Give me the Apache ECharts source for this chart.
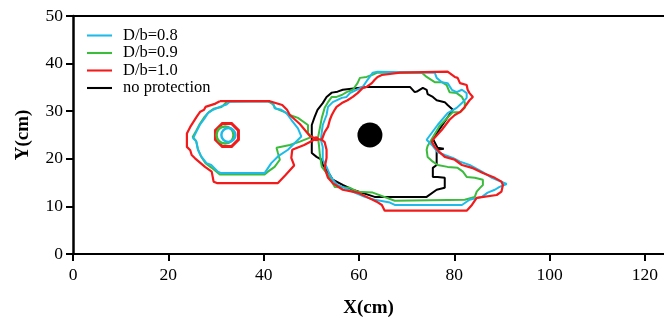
<!DOCTYPE html>
<html>
<head>
<meta charset="utf-8">
<script src="https://cdn.jsdelivr.net/npm/echarts@6/dist/echarts.min.js"></script>
<style>html,body{margin:0;padding:0;background:#fff}#c{width:664px;height:322px}</style>
</head>
<body>
<div id="c"></div>
<script>
var xTicks = [0, 20, 40, 60, 80, 100, 120];
var yTicks = [0, 10, 20, 30, 40, 50];
var seriesNames = ['D/b=0.8', 'D/b=0.9', 'D/b=1.0', 'no protection'];
var seriesColors = ['#1EBBEA', '#3DBB3D', '#F21A1A', '#000000'];

var pier = [[62.3, 25.0]];
var junction = [[51.0, 24.2]];
var ringRed = [[32.3, 25.0]];
var ringGreen = [[31.9, 25.0]];
var ringCyan = [[32.6, 25.0]];

var db08Left = [[32.9,32.0],[40.9,32.1],[42.0,31.7],[42.3,30.6],[43.7,30.3],[44.8,29.6],[45.8,28.2],[47.2,26.4],[47.9,24.7],[45.1,21.9],[43.0,20.5],[41.6,19.1],[40.2,17.0],[31.1,17.0],[30.4,17.3],[29.0,18.7],[28.0,19.1],[26.9,20.5],[26.2,21.9],[25.9,23.6],[25.2,24.3],[25.9,25.7],[26.6,27.1],[27.6,28.5],[28.3,29.6],[29.4,30.3],[30.8,30.9],[32.2,31.4],[32.9,32.0]];
var db08Right = [[52.0,24.0],[52.2,25.6],[52.4,27.1],[53.2,29.2],[53.5,30.9],[54.5,31.9],[56.4,32.8],[57.4,33.0],[58.1,33.8],[59.5,34.5],[60.8,35.1],[61.8,36.6],[62.9,38.1],[63.9,38.3],[75.9,38.1],[76.3,37.0],[77.4,36.1],[78.6,35.9],[79.5,34.5],[80.5,34.0],[81.6,34.5],[82.6,33.8],[82.6,32.8],[81.6,31.7],[80.5,30.7],[78.6,29.6],[76.5,27.1],[74.2,24.0],[75.3,22.9],[76.5,21.4],[78.0,20.8],[79.7,20.2],[81.2,19.4],[83.2,18.7],[85.8,17.3],[87.9,16.0],[91.0,14.7],[89.5,14.1],[88.5,13.5],[87.0,12.9],[85.8,12.0],[83.2,11.4],[81.6,10.3],[67.5,10.3],[66.5,10.8],[63.3,11.4],[61.2,12.0],[59.1,12.9],[57.0,13.9],[55.5,14.5],[54.5,15.6],[53.9,16.6],[53.2,18.3],[52.4,19.8],[52.4,22.5],[52.0,24.0]];

var db09Left = [[32.4,32.1],[40.9,32.1],[41.9,31.5],[42.5,30.6],[44.0,30.0],[45.5,29.2],[47.2,28.6],[49.3,27.1],[49.3,25.4],[50.1,24.6],[49.7,24.3],[47.6,23.6],[45.5,22.9],[42.7,22.3],[43.0,21.2],[43.4,19.8],[42.3,18.3],[40.9,17.3],[40.2,16.7],[30.8,16.7],[29.1,18.1],[27.8,19.1],[26.8,20.6],[26.2,22.1],[25.8,23.8],[25.1,24.6],[25.8,25.8],[26.6,27.3],[27.6,28.8],[28.5,29.8],[29.5,30.5],[31.2,30.9],[32.4,32.1]];
var db09Right = [[51.4,24.4],[51.8,26.5],[52.2,28.6],[52.8,30.7],[53.5,31.9],[54.3,33.0],[55.3,33.0],[56.4,33.4],[57.4,34.0],[58.7,34.5],[59.7,35.9],[60.2,37.0],[61.6,37.2],[62.7,37.6],[63.9,38.1],[73.2,38.1],[74.2,37.2],[75.9,36.1],[77.4,36.1],[78.4,35.5],[79.0,34.0],[80.5,33.8],[81.6,33.0],[82.2,31.9],[82.2,30.7],[81.2,29.8],[79.7,29.8],[76.9,26.9],[74.4,22.7],[74.2,21.9],[74.4,20.4],[75.5,19.4],[76.5,18.7],[78.6,18.3],[80.7,18.1],[81.8,17.3],[82.6,16.2],[84.3,16.0],[86.0,15.6],[86.0,14.5],[85.4,13.9],[84.7,13.1],[84.3,12.0],[82.2,11.4],[67.5,11.2],[62.9,12.9],[59.7,13.1],[58.1,13.9],[54.9,14.1],[53.5,16.6],[52.2,18.3],[51.8,20.8],[51.6,22.9],[51.4,24.4]];

var db10Left = [[30.8,32.1],[41.3,32.1],[43.9,31.3],[44.9,30.3],[45.5,29.2],[47.6,27.3],[49.7,24.8],[51.0,24.2],[48.5,22.9],[46.0,21.9],[45.8,20.2],[46.4,18.6],[44.6,16.6],[43.0,14.9],[30.2,14.9],[29.5,15.2],[29.1,17.3],[27.7,18.3],[25.6,20.1],[24.9,20.8],[24.6,21.8],[23.9,22.5],[23.9,25.3],[24.6,26.7],[25.3,27.8],[26.0,28.9],[26.7,29.9],[27.5,30.3],[27.8,30.9],[29.9,31.6],[30.8,32.1]];
var db10Right = [[51.0,24.2],[52.2,24.0],[52.8,25.6],[53.5,26.7],[53.9,28.2],[54.3,29.2],[54.9,30.3],[55.3,30.9],[56.4,31.7],[57.6,32.3],[58.7,33.0],[59.7,33.8],[60.8,34.9],[61.6,35.1],[62.7,35.9],[63.3,36.6],[63.9,37.2],[64.8,37.6],[68.6,38.1],[78.6,38.3],[80.1,37.2],[80.7,37.0],[81.2,35.9],[82.6,35.5],[82.8,34.5],[83.2,33.8],[83.9,33.0],[83.2,32.3],[82.2,30.9],[81.2,29.8],[80.1,29.2],[79.0,28.2],[77.4,26.1],[75.5,24.0],[75.3,23.5],[75.9,22.5],[76.9,21.4],[78.0,20.4],[80.1,19.8],[81.6,18.7],[83.7,18.1],[86.0,17.0],[88.5,16.0],[89.9,15.2],[90.2,14.5],[89.9,13.1],[88.9,12.4],[88.5,12.0],[84.7,11.8],[83.7,10.3],[82.6,9.1],[65.4,9.1],[64.8,10.3],[63.7,11.0],[61.6,12.0],[59.7,12.9],[56.6,13.5],[54.5,14.9],[53.5,16.0],[52.8,18.1],[53.2,20.2],[53.2,21.9],[52.8,23.5],[52.2,24.0]];

var noProt = [[50.7,28.8],[51.3,30.3],[52.4,31.7],[53.2,33.0],[54.3,33.9],[55.5,34.1],[56.6,34.5],[61.6,35.1],[70.7,35.1],[71.7,34.0],[72.3,34.2],[73.4,34.9],[74.2,34.5],[74.4,33.6],[75.5,33.0],[76.3,32.3],[78.0,31.9],[78.6,31.3],[79.7,30.3],[80.1,29.9],[75.5,24.2],[76.5,22.3],[77.8,22.1],[76.3,21.9],[76.3,18.7],[75.5,18.1],[75.5,16.2],[76.5,16.2],[78.0,16.0],[78.0,13.9],[76.3,13.5],[74.2,12.0],[63.3,12.0],[58.7,13.5],[56.6,14.5],[54.5,15.6],[53.9,16.6],[53.2,17.7],[52.4,18.7],[52.2,19.8],[51.1,20.4],[50.1,21.2],[50.1,27.1],[50.7,28.8]];

var serif = 'Liberation Serif';
var octagon = 'path://M30,0 L70,0 L100,30 L100,70 L70,100 L30,100 L0,70 L0,30 Z';

function line(name, color, data, w) {
  return {
    type: 'line', name: name, data: data, showSymbol: false, symbol: 'none',
    lineStyle: { color: color, width: w }, itemStyle: { color: color },
    animation: false, silent: true, z: 3
  };
}
function ring(name, color, data, size, bw, sym) {
  return {
    type: 'scatter', name: name, data: data, symbol: sym, symbolSize: size,
    itemStyle: { color: 'rgba(0,0,0,0)', borderColor: color, borderWidth: bw, opacity: 1 },
    animation: false, silent: true, z: 4
  };
}

var chart = echarts.init(document.getElementById('c'), null, { renderer: 'canvas' });
chart.setOption({
  animation: false,
  grid: { left: 73, right: 0, top: 16, bottom: 68, containLabel: false, outerBoundsMode: 'none' },
  legend: {
    orient: 'vertical', left: 82, top: 22, itemWidth: 25, itemHeight: 14, itemGap: 0.5,
    data: seriesNames.map(function (n, i) {
      return { name: n, icon: 'path://M0,6 L24,6 L24,8 L0,8 Z', itemStyle: { color: seriesColors[i] } };
    }),
    textStyle: { fontFamily: serif, fontSize: 16.5, lineHeight: 17, color: '#000', padding: [0, 0, 0, 6] },
    selectedMode: false
  },
  xAxis: [{
    type: 'value', min: 0, max: 124, interval: 20,
    name: 'X(cm)', nameLocation: 'middle', nameGap: 45,
    nameTextStyle: { fontFamily: serif, fontSize: 19, fontWeight: 'bold', color: '#000' },
    axisLine: { show: true, lineStyle: { color: '#000', width: 2 } },
    axisTick: { show: true, length: 7, inside: false, lineStyle: { color: '#000', width: 2 }, customValues: xTicks },
    axisLabel: { fontFamily: serif, fontSize: 17.5, color: '#000', margin: 12, customValues: xTicks,
      formatter: function (v) { return v % 20 === 0 ? String(v) : ''; } },
    splitLine: { show: false }
  }, {
    type: 'value', min: 0, max: 124, position: 'top',
    axisLine: { show: true, lineStyle: { color: '#000', width: 2 } },
    axisTick: { show: false }, axisLabel: { show: false }, splitLine: { show: false }
  }],
  yAxis: [{
    type: 'value', min: 0, max: 50, interval: 10,
    name: 'Y(cm)', nameLocation: 'middle', nameGap: 40,
    nameTextStyle: { fontFamily: serif, fontSize: 19, fontWeight: 'bold', color: '#000' },
    axisLine: { show: true, lineStyle: { color: '#000', width: 2.5 } },
    axisTick: { show: true, length: 7, lineStyle: { color: '#000', width: 2 } },
    axisLabel: { fontFamily: serif, fontSize: 17.5, color: '#000', margin: 10 },
    splitLine: { show: false }
  }],
  series: [
    line(seriesNames[3], seriesColors[3], noProt, 2),
    line(seriesNames[1], seriesColors[1], db09Left, 2),
    line(seriesNames[1], seriesColors[1], db09Right, 2),
    line(seriesNames[0], seriesColors[0], db08Left, 2),
    line(seriesNames[0], seriesColors[0], db08Right, 2),
    line(seriesNames[2], seriesColors[2], db10Left, 2.2),
    line(seriesNames[2], seriesColors[2], db10Right, 2.2),
    ring(seriesNames[2], seriesColors[2], ringRed, 23, 3, octagon),
    ring(seriesNames[1], seriesColors[1], ringGreen, 17, 2.5, 'circle'),
    ring(seriesNames[0], seriesColors[0], ringCyan, 14, 2.5, 'circle'),
    { type: 'scatter', name: seriesNames[3], data: pier, symbol: 'circle', symbolSize: 25,
      itemStyle: { color: '#000', opacity: 1 }, animation: false, silent: true, z: 5 },
    { type: 'scatter', name: seriesNames[2], data: junction, symbol: 'circle', symbolSize: 5,
      itemStyle: { color: seriesColors[2], opacity: 1 }, animation: false, silent: true, z: 5 }
  ]
});
</script>
</body>
</html>
